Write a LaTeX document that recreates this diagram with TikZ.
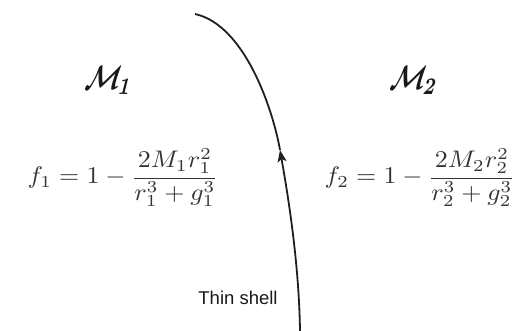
\documentclass[tikz,border=0pt]{standalone}
\usepackage{fontspec}
\newfontfamily\labelfont{Liberation Sans}
\usetikzlibrary{arrows.meta}
\begin{document}
\begin{tikzpicture}[x=1pt,y=1pt,
  eq/.style={text=black!80, inner sep=0pt, font=\fontsize{10}{12}\selectfont, xscale=2.6, yscale=2.4},
  reg/.style={text=black!90, inner sep=0pt, font=\fontsize{10}{12}\selectfont\boldmath, xslant=0.25, xscale=2.5, yscale=3.4},
  shell/.style={line width=1.8pt, black!88},
  lbl/.style={text=black!90, inner sep=0pt, font=\labelfont\fontsize{18.5}{20}\selectfont}]
\useasboundingbox (0,0) rectangle (523,331);
\coordinate (bot) at (300,0);
\coordinate (mid) at (280,181);
\coordinate (top) at (195,317);
\draw[shell, -{Stealth[length=12pt,width=9pt,inset=3pt]}] (bot) .. controls (299,71) and (287,141) .. (mid);
\draw[shell] (mid) .. controls (273,221) and (245,306) .. (top);
\node[reg] (M1) at (110,251) {$\mathcal{M}_1$};
\node[reg] (M2) at (415,251) {$\mathcal{M}_2$};
\node[eq, anchor=base west] (f1) at (27,147) {$\displaystyle f_1 = 1 - \frac{2M_1 r_1^2}{r_1^3+g_1^3}$};
\node[eq, anchor=base west] (f2) at (324,147) {$\displaystyle f_2 = 1 - \frac{2M_2 r_2^2}{r_2^3+g_2^3}$};
\node[lbl] (ts) at (238,33) {Thin shell};
\end{tikzpicture}
\end{document}
